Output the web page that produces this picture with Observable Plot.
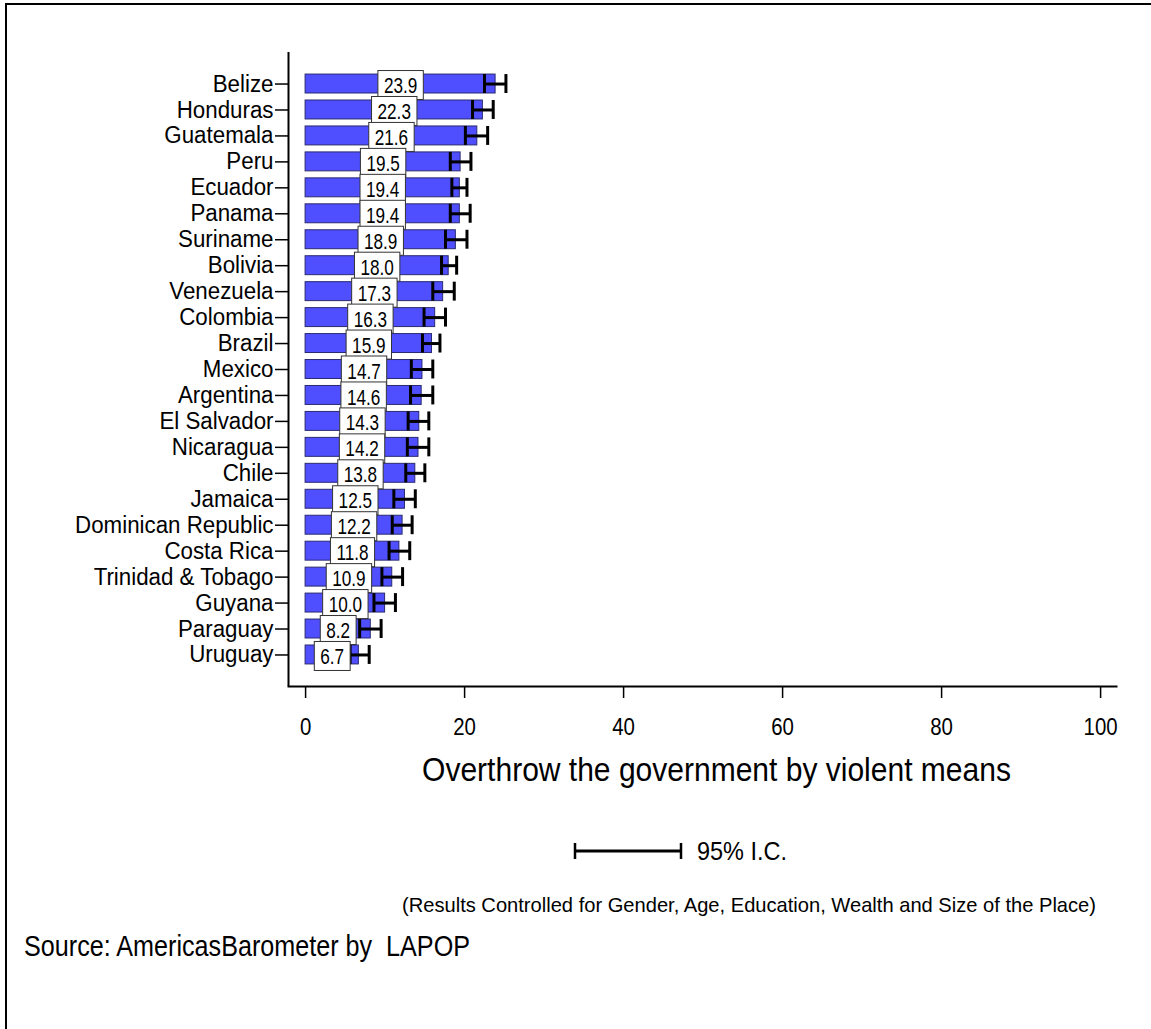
<!DOCTYPE html>
<html><head><meta charset="utf-8">
<script src="https://cdn.jsdelivr.net/npm/d3@7"></script>
<script src="https://cdn.jsdelivr.net/npm/@observablehq/plot@0.6"></script>
<style>
html,body{margin:0;padding:0;background:#fff;overflow:hidden;}
#wrap{position:relative;width:1151px;height:1029px;}
#chart{position:absolute;left:0;top:0;}
#notes{position:absolute;left:0;top:800px;}
#notes text{white-space:pre;}
.frame-top{position:absolute;left:5px;top:3px;width:1146px;height:2px;background:#000;}
.frame-left{position:absolute;left:5px;top:3px;width:2px;height:1026px;background:#000;}
</style></head><body>
<div id="wrap"><div id="chart"></div><svg id="notes" width="1151" height="229"></svg><div class="frame-top"></div><div class="frame-left"></div></div>
<script>
const countries = ["Belize","Honduras","Guatemala","Peru","Ecuador","Panama","Suriname","Bolivia","Venezuela","Colombia","Brazil","Mexico","Argentina","El Salvador","Nicaragua","Chile","Jamaica","Dominican Republic","Costa Rica","Trinidad & Tobago","Guyana","Paraguay","Uruguay"];
const values = [23.9,22.3,21.6,19.5,19.4,19.4,18.9,18.0,17.3,16.3,15.9,14.7,14.6,14.3,14.2,13.8,12.5,12.2,11.8,10.9,10.0,8.2,6.7];
const lower  = [22.5,21.0,20.1,18.2,18.4,18.2,17.6,17.1,16.0,14.9,14.7,13.3,13.2,12.9,12.8,12.6,11.1,10.9,10.5,9.6,8.6,6.8,5.6];
const upper  = [25.2,23.6,22.9,20.8,20.3,20.7,20.3,19.0,18.7,17.6,16.9,16.0,16.0,15.5,15.5,15.0,13.8,13.4,13.1,12.2,11.3,9.5,8.0];
const xTicks = [0,20,40,60,80,100];
const xTitle = "Overthrow the government by violent means";
const legendLabel = "95% I.C.";
const note = "(Results Controlled for Gender, Age, Education, Wealth and Size of the Place)";
const source = "Source: AmericasBarometer by  LAPOP";

const FONT = "'Liberation Sans', Arial, sans-serif";
const VFS = 22;

const data = countries.map((c,i)=>({country:c, value:values[i], lo:lower[i], hi:upper[i]}));

const plot = Plot.plot({
  width:1151, height:800,
  marginTop:52, marginLeft:288, marginRight:35, marginBottom:114,
  style:{background:"transparent", fontFamily:FONT, fontSize:"22px", color:"#000"},
  x:{domain:[-2.15,102], label:null},
  y:{domain:countries, paddingInner:0.27, paddingOuter:0.85, round:false, label:null},
  marks:[
    Plot.barX(data,{x1:0,x2:"value",y:"country",fill:"#4f4fff",stroke:"#2a2a70",strokeWidth:1}),
    Plot.ruleY(data,{y:"country",x1:"lo",x2:"hi",stroke:"#000",strokeWidth:3}),
    Plot.tickX(data,{x:"lo",y:"country",stroke:"#000",strokeWidth:3,insetTop:0,insetBottom:0}),
    Plot.tickX(data,{x:"hi",y:"country",stroke:"#000",strokeWidth:3,insetTop:0,insetBottom:0}),
    Plot.text(data,{x:d=>d.value/2,y:"country",text:d=>d.value.toFixed(1),fontSize:VFS,fill:"#000",dy:2,className:"vlabel"}),
    Plot.axisX({ticks:xTicks, tickSize:12, tickPadding:19, fontSize:24, strokeWidth:1.5, label:null, className:"xlab"}),
    Plot.axisY({tickSize:13, tickPadding:2, fontSize:23.5, strokeWidth:1.5, label:null, className:"ylab"}),
    Plot.ruleX([-2.15],{stroke:"#000",strokeWidth:2}),
    Plot.frame({anchor:"bottom", stroke:"#000", strokeWidth:2}),
    Plot.text([xTitle],{text:d=>d, frameAnchor:"bottom", dy:94, dx:14, fontSize:33, fill:"#000", className:"xtitle"})
  ]
});
document.getElementById("chart").appendChild(plot);

// horizontal condensing of text (the original uses a narrow face)
function squeeze(sel, s) {
  plot.querySelectorAll(sel).forEach(t=>{
    const xa = parseFloat(t.getAttribute("x")) || 0;
    const tr = t.getAttribute("transform") || "";
    t.setAttribute("transform", `${tr} translate(${xa},0) scale(${s},1) translate(${-xa},0)`);
  });
}
squeeze("g.vlabel text", 0.78);
squeeze("g.xlab text", 0.85);
squeeze("g.ylab text", 0.95);
squeeze("g.xtitle text", 0.91);

// white boxes behind value labels, centred on the digits
const svgNS = "http://www.w3.org/2000/svg";
plot.querySelectorAll("g.vlabel text").forEach(t=>{
  const b = t.getBBox();
  const m = t.parentNode.getCTM().inverse().multiply(t.getCTM());
  const cy = b.y + 0.547*VFS;   // visual centre of the digits
  const p1 = new DOMPoint(b.x, cy).matrixTransform(m);
  const p2 = new DOMPoint(b.x+b.width, cy).matrixTransform(m);
  const px = 6, h = 29;
  const r = document.createElementNS(svgNS,"rect");
  r.setAttribute("x", Math.min(p1.x,p2.x)-px); r.setAttribute("y", p1.y - h/2);
  r.setAttribute("width", Math.abs(p2.x-p1.x)+2*px); r.setAttribute("height", h);
  r.setAttribute("fill","#fff"); r.setAttribute("stroke","#333"); r.setAttribute("stroke-width","1");
  t.parentNode.insertBefore(r, t);
});

// legend and notes below the chart
const notes = d3.select("#notes");
const lg = notes.append("g");
lg.append("line").attr("x1",574).attr("x2",682).attr("y1",51).attr("y2",51).attr("stroke","#000").attr("stroke-width",3);
lg.append("line").attr("x1",575).attr("x2",575).attr("y1",43).attr("y2",59).attr("stroke","#000").attr("stroke-width",2.5);
lg.append("line").attr("x1",681).attr("x2",681).attr("y1",43).attr("y2",59).attr("stroke","#000").attr("stroke-width",2.5);
lg.append("text").attr("x",697).attr("y",51).attr("dy","0.35em").attr("font-family",FONT).attr("font-size",26)
  .attr("textLength",90).attr("lengthAdjust","spacingAndGlyphs").text(legendLabel);
notes.append("text").attr("x",402).attr("y",105).attr("dy","0.35em").attr("font-family",FONT).attr("font-size",21)
  .attr("textLength",694).attr("lengthAdjust","spacingAndGlyphs").text(note);
notes.append("text").attr("x",24).attr("y",146).attr("dy","0.35em").attr("font-family",FONT).attr("font-size",29)
  .attr("textLength",446).attr("lengthAdjust","spacingAndGlyphs").text(source);
</script>
</body></html>
